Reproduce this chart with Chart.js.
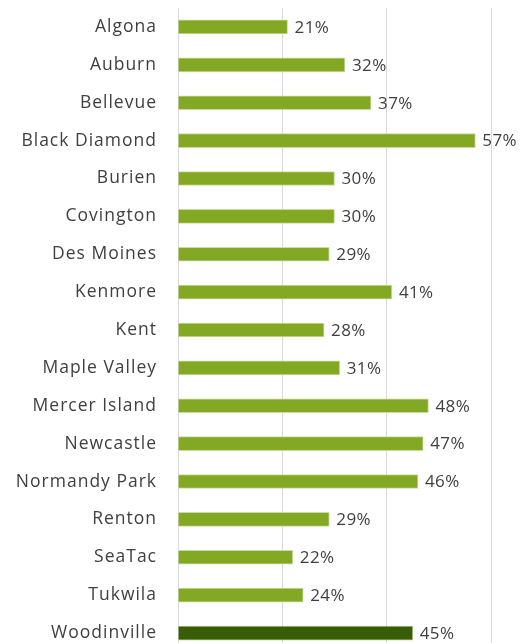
<!DOCTYPE html>
<html>
<head>
<meta charset="utf-8">
<script src="https://cdn.jsdelivr.net/npm/chart.js@4"></script>
<style>
  html, body { margin: 0; padding: 0; background: #ffffff; overflow: hidden; }
  #wrap { width: 527px; height: 652px; }
</style>
</head>
<body>
<div id="wrap"><canvas id="chart"></canvas></div>
<script>
const cities = ["Algona", "Auburn", "Bellevue", "Black Diamond", "Burien", "Covington",
                "Des Moines", "Kenmore", "Kent", "Maple Valley", "Mercer Island",
                "Newcastle", "Normandy Park", "Renton", "SeaTac", "Tukwila", "Woodinville"];
const shares = [21, 32, 37, 57, 30, 30, 29, 41, 28, 31, 48, 47, 46, 29, 22, 24, 45];
const highlight = "Woodinville";

const barColor = "#82a824";
const barColorHighlight = "#375e07";
const textColor = "#3f3f3f";
const fontFamily = "'Open Sans', sans-serif";

// wider tracking so the labels take the room the original font took
const tracking = {
    id: "tracking",
    beforeDraw(chart) {
        chart.ctx.letterSpacing = "1px";
    }
};

// draws "21%" etc. just right of each bar
const valueLabels = {
    id: "valueLabels",
    afterDatasetsDraw(chart) {
        const ctx = chart.ctx;
        const meta = chart.getDatasetMeta(0);
        ctx.save();
        ctx.letterSpacing = "0.4px";
        ctx.font = "17px " + fontFamily;
        ctx.fillStyle = textColor;
        ctx.textAlign = "left";
        ctx.textBaseline = "middle";
        meta.data.forEach((bar, i) => {
            ctx.fillText(shares[i] + "%", bar.x + 7, bar.y + 1);
        });
        ctx.restore();
    }
};

const ctx = document.getElementById("chart");
new Chart(ctx, {
    type: "bar",
    data: {
        labels: cities,
        datasets: [{
            data: shares,
            backgroundColor: cities.map(c => c === highlight ? barColorHighlight : barColor),
            borderColor: cities.map(c => c === highlight ? "#a9bf8a" : "#c7dca0"),
            borderWidth: 1,
            borderSkipped: "left",
            barThickness: 14
        }]
    },
    options: {
        indexAxis: "y",
        responsive: true,
        maintainAspectRatio: false,
        animation: false,
        layout: {
            padding: { top: 8, right: 36, bottom: 0, left: 0 }
        },
        scales: {
            x: {
                min: 0,
                max: 60,
                afterFit: function(scale) { scale.height = 0; },
                ticks: { display: false, stepSize: 20 },
                grid: { color: "#d9d9d9", drawTicks: false },
                border: { display: false }
            },
            y: {
                afterFit: function(scale) {
                    scale.width = 178;
                    scale.paddingTop = 0;
                    scale.paddingBottom = 0;
                },
                ticks: {
                    padding: 21,
                    color: textColor,
                    font: { family: fontFamily, size: 17.5 }
                },
                grid: { display: false, drawTicks: false },
                border: { display: true, color: "#d9d9d9" }
            }
        },
        plugins: {
            legend: { display: false },
            tooltip: { enabled: false }
        }
    },
    plugins: [tracking, valueLabels]
});
</script>
</body>
</html>
